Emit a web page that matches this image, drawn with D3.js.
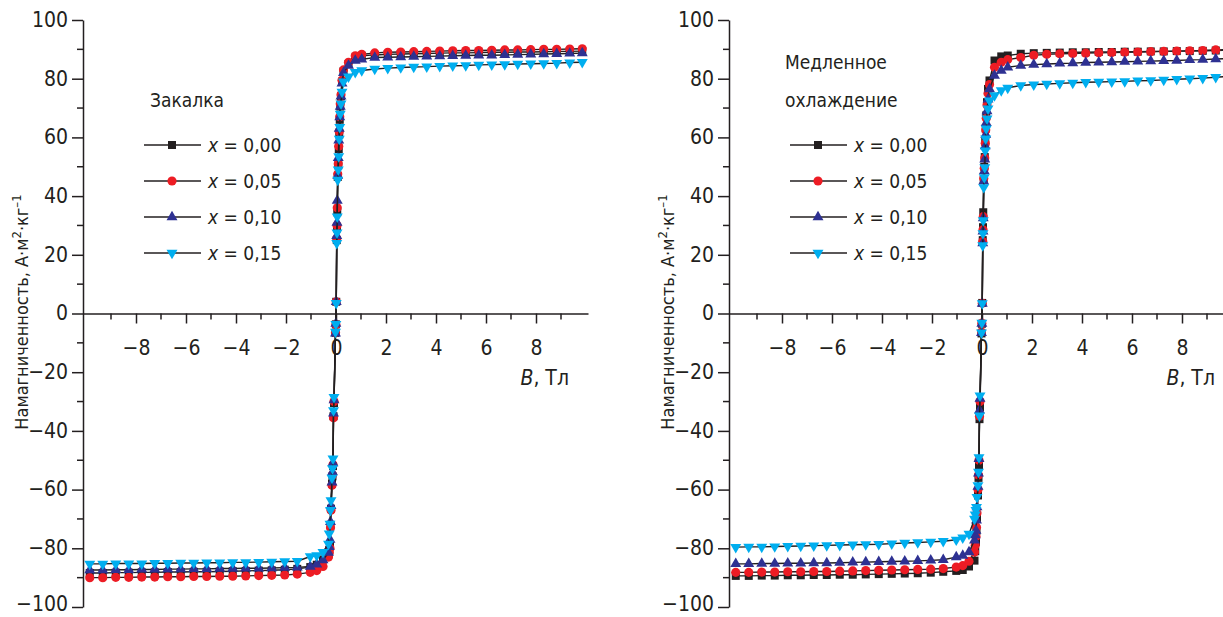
<!DOCTYPE html>
<html>
<head>
<meta charset="utf-8">
<script src="https://cdn.jsdelivr.net/npm/d3@7"></script>
<style>
	body { margin: 0; background: #fff; }
	svg { display: block; }
</style>
</head>
<body>
<div id="chart"></div>
<script>
// field values (T), shared by every series
const fieldB = [-9.85, -9.33, -8.81, -8.29, -7.77, -7.25, -6.73, -6.21, -5.69, -5.17, -4.65, -4.13, -3.61, -3.09, -2.57, -2.05, -1.55,
	-1.03, -0.77, -0.52,
	-0.30, -0.27, -0.24, -0.22, -0.20, -0.16, -0.14, -0.12, -0.10, -0.08, -0.02, -0.005,
	0.01, 0.03, 0.04, 0.05, 0.07, 0.09, 0.11, 0.13, 0.15, 0.17, 0.20, 0.24, 0.30,
	0.50, 0.77, 1.03,
	1.55, 2.07, 2.59, 3.11, 3.63, 4.15, 4.67, 5.19, 5.71, 6.23, 6.75, 7.27, 7.79, 8.31, 8.83, 9.35, 9.85];

// Закалка (quenched)
const quenchX000 = [-88.4, -88.4, -88.3, -88.3, -88.2, -88.2, -88.1, -88.1, -88.0, -88.0, -87.9, -87.8, -87.7, -87.6, -87.5, -87.3, -87.0,
	-86.4, -85.6, -83.8,
	-82, -80.5, -78.5, -72, -66.5, -58, -55.5, -52, -35, -30.5, -6.6, -3.7,
	4, 25, 29, 34.5, 46.5, 50.5, 56, 61, 66, 70.5, 74, 79, 82.5,
	85.0, 87.2, 87.8,
	88.1, 88.3, 88.4, 88.5, 88.6, 88.7, 88.8, 88.8, 88.9, 89.0, 89.0, 89.1, 89.1, 89.2, 89.3, 89.3, 89.4];
const quenchX005 = [-90.0, -90.0, -89.9, -89.9, -89.8, -89.8, -89.7, -89.7, -89.6, -89.6, -89.5, -89.5, -89.4, -89.3, -89.2, -89.1, -88.8,
	-88.2, -87.6, -86.2,
	-83, -81.5, -80, -73, -67, -58.5, -55, -51.5, -35.5, -30, -6.5, -3.8,
	4, 25.5, 30, 36, 47.5, 51, 57, 62, 67, 71.5, 74.5, 79.5, 83,
	85.6, 87.8, 88.3,
	88.8, 89.0, 89.1, 89.2, 89.3, 89.4, 89.5, 89.6, 89.6, 89.7, 89.8, 89.8, 89.9, 90.0, 90.0, 90.1, 90.2];
const quenchX010 = [-87.4, -87.4, -87.3, -87.3, -87.2, -87.2, -87.1, -87.1, -87.0, -87.0, -86.9, -86.9, -86.8, -86.8, -86.7, -86.6, -86.5,
	-86.2, -85.5, -84.0,
	-81.5, -79.5, -77, -71, -65.5, -57.5, -54, -51, -34, -29.5, -6.8, -3.4,
	4, 26.5, 31, 38.5, 47, 53, 59, 63, 66.9, 70.5, 74, 78.4, 82,
	84.5, 86.2, 86.6,
	87.2, 87.3, 87.4, 87.5, 87.6, 87.7, 87.8, 87.9, 88.0, 88.0, 88.1, 88.2, 88.3, 88.4, 88.5, 88.6, 88.7];
const quenchX015 = [-85.3, -85.3, -85.2, -85.2, -85.2, -85.1, -85.1, -85.0, -85.0, -84.9, -84.9, -84.8, -84.8, -84.7, -84.6, -84.5, -84.4,
	-82.8, -82.4, -81.3,
	-78.5, -75, -71.7, -67, -63.7, -56, -52.8, -49.5, -33, -28.5, -6.3, -3.6,
	3.5, 24, 27.5, 33, 45.5, 49, 53.5, 59.5, 63.5, 68, 71.5, 75.5, 79,
	80.7, 82.2, 82.8,
	83.3, 83.6, 83.8, 84.0, 84.1, 84.3, 84.4, 84.5, 84.7, 84.8, 84.9, 85.0, 85.1, 85.2, 85.3, 85.5, 85.6];

// Медленное охлаждение (slow cooling)
const slowX000 = [-89.4, -89.4, -89.3, -89.3, -89.2, -89.2, -89.1, -89.1, -89.0, -89.0, -88.9, -88.8, -88.7, -88.6, -88.5, -88.3, -88.0,
	-87.7, -87.4, -86.2,
	-84.2, -81, -77.9, -74, -70, -62, -56, -52, -36, -32, -6.8, -3.5,
	3.6, 25, 29.4, 34.5, 45.5, 50, 53.3, 58.5, 63, 67.5, 72, 76.5, 79.4,
	86.2, 87.6, 87.9,
	88.5, 88.7, 88.8, 88.9, 89.0, 89.0, 89.1, 89.1, 89.2, 89.2, 89.3, 89.3, 89.4, 89.4, 89.5, 89.6, 89.7];
const slowX005 = [-88.2, -88.2, -88.1, -88.1, -88.0, -88.0, -87.9, -87.9, -87.8, -87.7, -87.6, -87.5, -87.4, -87.3, -87.2, -87.1, -86.9,
	-86.4, -85.9, -84.4,
	-81.3, -79, -76, -72.8, -68, -60, -55, -50, -35, -30, -6.3, -3.3,
	3.5, 24.5, 28.5, 33, 46, 49.5, 53, 58, 62.5, 66.5, 71, 75, 78,
	83.9, 85.6, 86.5,
	87.2, 88.0, 88.3, 88.5, 88.6, 88.7, 88.8, 88.9, 89.0, 89.1, 89.2, 89.3, 89.4, 89.5, 89.6, 89.8, 90.0];
const slowX010 = [-85.3, -85.3, -85.2, -85.2, -85.1, -85.1, -85.0, -85.0, -84.9, -84.8, -84.7, -84.6, -84.5, -84.4, -84.3, -84.1, -83.9,
	-83.0, -82.5, -81.3,
	-77.3, -75.5, -74, -70.5, -66, -59, -54.5, -49.5, -33, -29, -6.6, -3.4,
	3.4, 24, 28, 32.5, 45, 48.5, 52.5, 57, 61, 65, 69, 73, 76.5,
	81.1, 82.8, 83.9,
	84.5, 84.8, 85.0, 85.2, 85.3, 85.5, 85.6, 85.7, 85.8, 85.9, 86.0, 86.1, 86.2, 86.4, 86.5, 86.7, 86.9];
const slowX015 = [-79.6, -79.5, -79.5, -79.4, -79.3, -79.2, -79.1, -79.0, -78.9, -78.8, -78.7, -78.6, -78.4, -78.2, -78.0, -77.8, -77.6,
	-77.1, -76.4, -75.1,
	-70, -68.5, -67, -66, -62.6, -58.6, -54, -49, -34.8, -28, -6.5, -3.2,
	3.4, 23.2, 27.3, 31.7, 43, 46.4, 49.8, 55.5, 59.6, 63, 66.4, 69.8, 72.5,
	74.3, 76.0, 76.9,
	77.7, 78.0, 78.2, 78.4, 78.6, 78.8, 78.9, 79.0, 79.1, 79.3, 79.4, 79.6, 79.8, 80.0, 80.2, 80.5, 80.8];

const seriesLabels = ["0,00", "0,05", "0,10", "0,15"];
const panelTitles = [["Закалка"], ["Медленное", "охлаждение"]];
const xTicks = [-8, -6, -4, -2, 0, 2, 4, 6, 8];
const xMinorTicks = [-9, -7, -5, -3, -1, 1, 3, 5, 7, 9];
const yTicks = [-100, -80, -60, -40, -20, 0, 20, 40, 60, 80, 100];
const yMinorTicks = [-90, -70, -50, -30, -10, 10, 30, 50, 70, 90];

const FONT = "'Liberation Sans Narrow', 'DejaVu Sans Condensed', Roboto, sans-serif";
const INK = "#231f20";
const colors = ["#231f20", "#ed1c24", "#2e3192", "#00aeef"];
const shapes = [
	{ type: d3.symbolSquare, size: 64, rot: 0 },
	{ type: d3.symbolCircle, size: 66, rot: 0 },
	{ type: d3.symbolTriangle, size: 52, rot: 0 },
	{ type: d3.symbolTriangle, size: 52, rot: 180 }
];

const panels = [
	{ left: 83, titles: panelTitles[0], values: [quenchX000, quenchX005, quenchX010, quenchX015] },
	{ left: 729, titles: panelTitles[1], values: [slowX000, slowX005, slowX010, slowX015] }
];

const svg = d3.select("#chart")
	.append("svg")
	.attr("width", 1223)
	.attr("height", 617);

const x = d3.scaleLinear().domain([-10.12, 10.08]).range([0, 505]);
const y = d3.scaleLinear().domain([-100, 100]).range([607, 20]);

const line = d3.line()
	.x(d => x(d.b))
	.y(d => y(d.m));

panels.forEach(p => {
	const g = svg.append("g").attr("transform", `translate(${p.left},0)`);

	// y axis
	const yAxis = g.append("g")
		.call(d3.axisLeft(y).tickValues(yTicks).tickSize(11).tickPadding(4).tickSizeOuter(0))
		.attr("font-family", FONT)
		.attr("font-size", 21);
	yAxis.select(".domain").attr("stroke", INK).attr("stroke-width", 1.5);
	yAxis.selectAll(".tick line").attr("stroke", INK).attr("stroke-width", 1.5);
	// lowest label sits on the page edge, lift it a touch
	yAxis.selectAll("text").attr("fill", INK).attr("dy", d => d === -100 ? "0.15em" : "0.3em");

	g.selectAll(null)
		.data(yMinorTicks)
		.join("line")
		.attr("x1", -6).attr("x2", 0)
		.attr("y1", d => y(d)).attr("y2", d => y(d))
		.attr("stroke", INK).attr("stroke-width", 1.5);

	// x axis through zero
	const xAxis = g.append("g")
		.attr("transform", `translate(0,${y(0)})`)
		.call(d3.axisBottom(x).tickValues(xTicks).tickSize(10).tickPadding(17).tickSizeOuter(0))
		.attr("font-family", FONT)
		.attr("font-size", 21);
	xAxis.select(".domain").attr("stroke", INK).attr("stroke-width", 1.5);
	xAxis.selectAll(".tick line").attr("stroke", INK).attr("stroke-width", 1.5);
	xAxis.selectAll("text").attr("fill", INK);

	g.selectAll(null)
		.data(xMinorTicks)
		.join("line")
		.attr("x1", d => x(d)).attr("x2", d => x(d))
		.attr("y1", y(0)).attr("y2", y(0) + 6)
		.attr("stroke", INK).attr("stroke-width", 1.5);

	const xLabel = g.append("text")
		.attr("x", 486)
		.attr("y", 385)
		.attr("text-anchor", "end")
		.attr("font-family", FONT)
		.attr("font-size", 21)
		.attr("fill", INK);
	xLabel.append("tspan").attr("font-style", "italic").text("B");
	xLabel.append("tspan").text(", Тл");

	// y label
	const yLabel = g.append("text")
		.attr("transform", `translate(${-55},312) rotate(-90)`)
		.attr("text-anchor", "middle")
		.attr("font-family", FONT)
		.attr("font-size", 18)
		.attr("fill", INK);
	yLabel.append("tspan").text("Намагниченность, А·м");
	yLabel.append("tspan").attr("dy", -7).attr("font-size", 13).text("2");
	yLabel.append("tspan").attr("dy", 7).text("·кг");
	yLabel.append("tspan").attr("dy", -7).attr("font-size", 13).text("–1");

	// curves
	p.values.forEach((vals, i) => {
		const pts = fieldB.map((b, k) => ({ b: b, m: vals[k] }));
		const sym = d3.symbol().type(shapes[i].type).size(shapes[i].size);

		g.append("path")
			.datum(pts)
			.attr("d", line)
			.attr("fill", "none")
			.attr("stroke", INK)
			.attr("stroke-width", 1.4);

		g.selectAll(null)
			.data(pts)
			.join("path")
			.attr("transform", d => `translate(${x(d.b)},${y(d.m)}) rotate(${shapes[i].rot})`)
			.attr("d", sym)
			.attr("fill", colors[i]);
	});

	// title + legend
	g.selectAll(null)
		.data(p.titles)
		.join("text")
		.attr("x", p.titles.length > 1 ? 56 : 67)
		.attr("y", (d, i) => 107 - (p.titles.length - 1 - i) * 38)
		.attr("font-family", FONT)
		.attr("font-size", 19)
		.attr("fill", INK)
		.text(d => d);

	seriesLabels.forEach((lab, i) => {
		const ly = 145 + i * 36;
		const sym = d3.symbol().type(shapes[i].type).size(shapes[i].size);
		g.append("line")
			.attr("x1", 61).attr("x2", 118)
			.attr("y1", ly).attr("y2", ly)
			.attr("stroke", INK).attr("stroke-width", 1.4);
		g.append("path")
			.attr("transform", `translate(89,${ly}) rotate(${shapes[i].rot})`)
			.attr("d", sym)
			.attr("fill", colors[i]);
		const t = g.append("text")
			.attr("x", 125)
			.attr("y", ly + 7)
			.attr("font-family", FONT)
			.attr("font-size", 19)
			.attr("fill", INK);
		t.append("tspan").attr("font-style", "italic").text("x");
		t.append("tspan").text(" = " + lab);
	});
});
</script>
</body>
</html>
